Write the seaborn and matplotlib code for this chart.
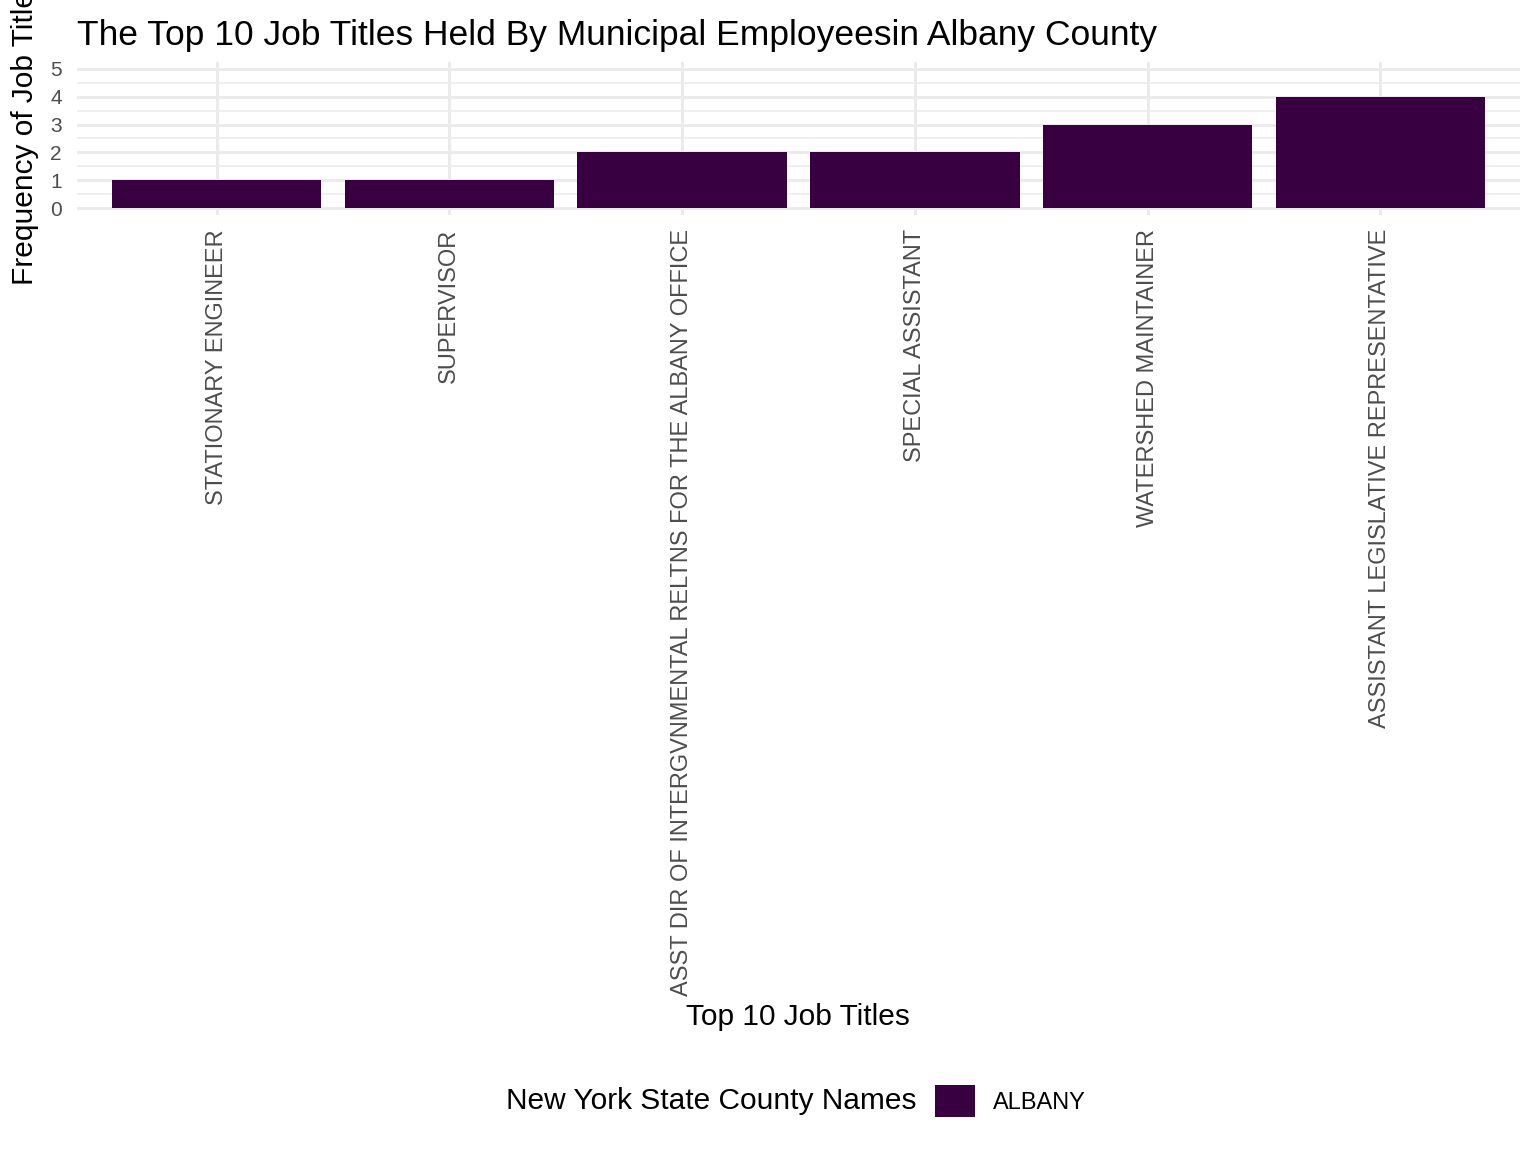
import pandas as pd
import matplotlib.pyplot as plt
import seaborn as sns
from matplotlib.patches import Patch
from matplotlib.ticker import MultipleLocator

job_titles = ['STATIONARY ENGINEER', 'SUPERVISOR',
              'ASST DIR OF INTERGVNMENTAL RELTNS FOR THE ALBANY OFFICE',
              'SPECIAL ASSISTANT', 'WATERSHED MAINTAINER',
              'ASSISTANT LEGISLATIVE REPRESENTATIVE']
counts = [1, 1, 2, 2, 3, 4]
county = ['ALBANY'] * 6

df = pd.DataFrame({'title': job_titles, 'freq': counts, 'county': county})

sns.set_theme(style='whitegrid')
plt.rcParams['font.family'] = ['Liberation Sans', 'DejaVu Sans']
bar_color = '#380040'

fig = plt.figure(figsize=(15.36, 11.52), dpi=100)
ax = fig.add_axes([77/1536, 1 - 215/1152, 1443/1536, 153/1152])

sns.barplot(data=df, x='title', y='freq', hue='county', palette=[bar_color],
            width=0.9, legend=False, ax=ax, saturation=1, linewidth=0)

ax.set_xlim(-0.6, 5.6)
ax.set_ylim(-0.25, 5.25)
ax.yaxis.set_major_locator(MultipleLocator(1))
ax.yaxis.set_minor_locator(MultipleLocator(0.5))
ax.grid(True, which='major', color='#EBEBEB', linewidth=2.2)
ax.grid(True, which='minor', axis='y', color='#EBEBEB', linewidth=1.1)
ax.set_axisbelow(True)
for s in ax.spines.values():
    s.set_visible(False)

ax.tick_params(axis='y', length=0, labelsize=15, labelcolor='#4D4D4D', pad=11)
ax.tick_params(axis='x', length=0, labelsize=17, labelcolor='#4D4D4D', pad=10)
plt.setp(ax.get_xticklabels(), rotation=90, ha='center', va='top')

ax.set_title('The Top 10 Job Titles Held By Municipal Employeesin Albany County',
             loc='left', fontsize=25.5, pad=12, color='black')
ax.set_ylabel('Frequency of Job Title', fontsize=21.5, color='black', va='center')
ax.yaxis.set_label_coords(25/1536, 1 - 138/1152, transform=fig.transFigure)
ax.set_xlabel('Top 10 Job Titles', fontsize=21.5, color='black', va='center')
ax.xaxis.set_label_coords(798/1536, 1 - 1017/1152, transform=fig.transFigure)

fig.text(917/1536, 1 - 1101/1152, 'New York State County Names',
         fontsize=21.5, ha='right', va='center', color='black')
handle = [Patch(facecolor=bar_color, edgecolor='none', label='ALBANY')]
fig.legend(handles=handle, loc='center left', bbox_to_anchor=(935/1536, 1 - 1101/1152),
           frameon=False, fontsize=17, handlelength=1.7, handleheight=1.7,
           handletextpad=0.75, borderaxespad=0, borderpad=0, labelcolor='black')

fig.savefig('out.png', dpi=100)
